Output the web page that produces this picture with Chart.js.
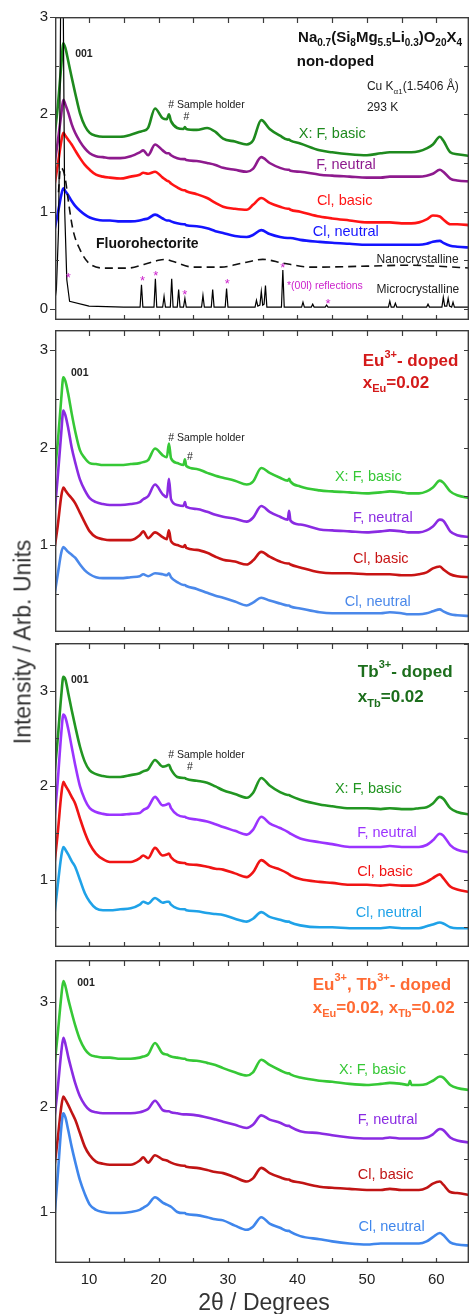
<!DOCTYPE html>
<html><head><meta charset="utf-8">
<script src="https://cdn.jsdelivr.net/npm/chart.js@4"></script>
<style>
html,body{margin:0;padding:0;background:#fff;}
#wrap{position:relative;width:470px;height:1314px;overflow:hidden;font-family:"Liberation Sans",Arial,Helvetica,sans-serif;background:#fff;}
canvas{position:absolute;left:0;}
#ytitle{position:absolute;left:23px;top:642px;transform:translate(-50%,-50%) rotate(-90deg);font-size:23px;color:#333;white-space:nowrap;}
#xtitle{position:absolute;left:264px;top:1302px;transform:translate(-50%,-50%);font-size:23px;color:#333;white-space:nowrap;}
</style></head>
<body><div id="wrap">
<canvas id="c1" width="470" height="325" style="top:0;width:470px;height:325px"></canvas>
<canvas id="c2" width="470" height="312" style="top:325px;width:470px;height:312px"></canvas>
<canvas id="c3" width="470" height="315" style="top:637px;width:470px;height:315px"></canvas>
<canvas id="c4" width="470" height="362" style="top:952px;width:470px;height:362px"></canvas>
<div id="ytitle">Intensity / Arb. Units</div>
<div id="xtitle">2θ / Degrees</div>
</div>
<script>
// ---------- data ----------
const THETA = [5.0,5.5,6.0,6.3,6.6,7.0,7.5,8.0,8.7,9.4,
 10.1,11.0,12.0,13.0,14.5,16.0,17.3,17.8,18.5,19.5,
 20.6,21.2,21.5,21.8,22.7,23.6,23.8,24.0,25.5,27.0,
 28.2,29.3,31.0,32.7,33.6,34.8,36.0,37.5,38.6,38.8,
 39.0,40.4,43.2,45.0,47.5,50.0,52.0,53.3,55.0,56.0,
 56.2,56.4,57.5,58.6,59.5,60.5,61.0,62.0,63.0,65.0];

// Panel 1: non-doped
const P1_F_BASIC = [1.76,2.08,2.50,2.73,2.68,2.55,2.38,2.22,2.01,1.88,
 1.81,1.78,1.77,1.77,1.77,1.79,1.82,1.83,1.86,2.06,
 1.96,1.95,2.00,1.93,1.86,1.85,1.87,1.85,1.84,1.86,
 1.82,1.75,1.72,1.69,1.73,1.94,1.85,1.78,1.74,1.74,
 1.73,1.70,1.63,1.61,1.59,1.58,1.60,1.61,1.61,1.61,
 1.61,1.61,1.62,1.65,1.69,1.77,1.73,1.61,1.59,1.57];
const P1_F_NEUTRAL = [1.47,1.72,2.00,2.15,2.10,2.02,1.90,1.81,1.72,1.65,
 1.60,1.57,1.56,1.55,1.55,1.57,1.61,1.63,1.58,1.69,
 1.63,1.60,1.60,1.58,1.55,1.54,1.54,1.53,1.52,1.50,
 1.48,1.45,1.43,1.41,1.44,1.56,1.50,1.45,1.43,1.43,
 1.42,1.41,1.38,1.37,1.36,1.35,1.35,1.36,1.36,1.36,
 1.36,1.36,1.36,1.37,1.39,1.43,1.41,1.34,1.32,1.31];
const P1_CL_BASIC = [1.26,1.48,1.72,1.81,1.78,1.74,1.69,1.63,1.55,1.48,
 1.43,1.38,1.36,1.35,1.34,1.36,1.38,1.40,1.39,1.41,
 1.35,1.32,1.31,1.29,1.25,1.22,1.22,1.21,1.18,1.14,
 1.09,1.05,1.03,1.02,1.07,1.14,1.09,1.05,1.03,1.03,
 1.02,1.00,0.95,0.93,0.91,0.89,0.89,0.89,0.88,0.88,
 0.88,0.88,0.89,0.92,0.96,0.95,0.92,0.87,0.87,0.86];
const P1_CL_NEUTRAL = [0.80,0.98,1.17,1.24,1.21,1.17,1.11,1.06,1.01,0.97,
 0.94,0.92,0.91,0.91,0.90,0.90,0.91,0.92,0.93,0.97,
 0.93,0.91,0.91,0.90,0.88,0.87,0.87,0.86,0.85,0.83,
 0.80,0.78,0.75,0.74,0.76,0.81,0.77,0.74,0.73,0.73,
 0.73,0.71,0.69,0.68,0.67,0.66,0.66,0.66,0.66,0.66,
 0.66,0.66,0.66,0.67,0.69,0.70,0.68,0.65,0.64,0.63];
const NANO_X = [5.6,5.9,6.3,6.6,7.0,7.7,8.7,10.0,12.5,15.5,18.0,20.0,21.0,22.0,25.0,29.0,32.0,35.0,38.0,42.0,50.0,56.0,60.0,65.0];
const NANO_Y = [1.20,1.45,1.42,1.33,1.12,0.81,0.61,0.47,0.42,0.42,0.46,0.50,0.51,0.49,0.43,0.43,0.47,0.51,0.47,0.43,0.44,0.45,0.44,0.42];
const MICRO_X = [5.0,5.3,5.6,5.8,6.0,6.1,6.3,6.5,6.8,7.2,
 10.0,15.0,17.35,17.55,17.75,19.35,19.55,19.75,20.6,20.8,
 21.0,21.7,21.9,22.1,22.7,22.9,23.1,23.6,23.8,24.0,
 26.2,26.4,26.6,27.6,27.8,28.0,29.6,29.8,30.0,33.9,
 34.1,34.3,34.6,34.8,35.0,35.2,35.4,35.6,37.7,37.9,
 38.1,40.6,40.8,41.0,42.0,42.2,42.4,44.0,44.2,44.4,
 50.0,53.1,53.3,53.5,53.9,54.1,54.3,58.6,58.8,59.0,
 60.8,61.0,61.2,61.5,61.7,61.9,62.2,62.4,62.6,65.0];
const MICRO_Y = [0.05,0.20,0.80,2.00,4.00,4.60,3.00,1.00,0.30,0.08,
 0.03,0.02,0.02,0.25,0.02,0.02,0.31,0.02,0.02,0.13,
 0.02,0.02,0.31,0.02,0.02,0.20,0.02,0.02,0.11,0.02,
 0.02,0.14,0.02,0.02,0.20,0.02,0.02,0.21,0.02,0.02,
 0.09,0.03,0.04,0.18,0.04,0.05,0.24,0.02,0.02,0.40,
 0.02,0.02,0.07,0.02,0.02,0.05,0.02,0.02,0.04,0.02,
 0.02,0.02,0.08,0.02,0.02,0.06,0.02,0.02,0.05,0.02,
 0.02,0.12,0.03,0.03,0.11,0.03,0.02,0.07,0.02,0.02];
const STAR_X = [7.0,17.7,19.6,23.8,29.9,37.9,44.4];
const STAR_Y = [0.35,0.31,0.37,0.17,0.28,0.45,0.08];

// Panel 2: Eu-doped
const P2_F_BASIC = [1.70,2.05,2.50,2.72,2.68,2.55,2.35,2.17,1.97,1.89,
 1.84,1.83,1.82,1.82,1.82,1.83,1.84,1.85,1.87,1.99,
 1.92,1.90,2.04,1.89,1.84,1.82,1.88,1.81,1.78,1.74,
 1.71,1.69,1.66,1.62,1.65,1.79,1.74,1.69,1.66,1.68,
 1.65,1.60,1.56,1.55,1.54,1.53,1.54,1.55,1.54,1.53,
 1.53,1.53,1.53,1.55,1.59,1.66,1.64,1.55,1.51,1.48];
const P2_F_NEUTRAL = [1.30,1.70,2.15,2.38,2.33,2.20,2.00,1.85,1.67,1.56,
 1.48,1.44,1.42,1.41,1.41,1.42,1.44,1.47,1.50,1.62,
 1.52,1.49,1.68,1.47,1.41,1.40,1.44,1.39,1.37,1.34,
 1.31,1.29,1.27,1.24,1.28,1.40,1.34,1.29,1.26,1.35,
 1.25,1.21,1.16,1.15,1.14,1.13,1.14,1.15,1.14,1.13,
 1.13,1.13,1.13,1.15,1.19,1.26,1.25,1.14,1.10,1.08];
const P2_CL_BASIC = [0.95,1.20,1.50,1.59,1.56,1.52,1.48,1.43,1.33,1.23,
 1.14,1.08,1.06,1.05,1.05,1.05,1.10,1.14,1.07,1.13,
 1.08,1.06,1.15,1.04,1.00,0.98,1.00,0.97,0.95,0.92,
 0.88,0.85,0.83,0.80,0.84,0.93,0.88,0.83,0.81,0.81,
 0.80,0.77,0.72,0.71,0.71,0.70,0.70,0.70,0.69,0.69,
 0.69,0.69,0.70,0.72,0.76,0.78,0.75,0.70,0.68,0.67];
const P2_CL_NEUTRAL = [0.48,0.70,0.92,0.98,0.96,0.93,0.90,0.87,0.80,0.74,
 0.70,0.67,0.66,0.66,0.66,0.67,0.68,0.70,0.68,0.71,
 0.70,0.69,0.71,0.67,0.62,0.59,0.59,0.58,0.55,0.51,
 0.48,0.46,0.42,0.38,0.41,0.46,0.43,0.40,0.38,0.38,
 0.37,0.35,0.31,0.30,0.30,0.30,0.30,0.31,0.30,0.29,
 0.29,0.29,0.29,0.30,0.32,0.34,0.32,0.29,0.28,0.27];

// Panel 3: Tb-doped
const P3_F_BASIC = [2.10,2.50,2.95,3.15,3.12,2.98,2.80,2.63,2.41,2.25,
 2.16,2.12,2.10,2.09,2.09,2.11,2.13,2.15,2.17,2.27,
 2.20,2.21,2.22,2.17,2.09,2.08,2.08,2.07,2.05,2.03,
 1.99,1.95,1.91,1.87,1.92,2.08,2.00,1.93,1.90,1.90,
 1.89,1.85,1.80,1.78,1.76,1.76,1.75,1.76,1.75,1.75,
 1.75,1.75,1.76,1.77,1.81,1.88,1.86,1.76,1.72,1.69];
const P3_F_NEUTRAL = [1.62,2.05,2.55,2.75,2.72,2.60,2.41,2.22,1.99,1.85,
 1.76,1.72,1.70,1.69,1.69,1.70,1.71,1.74,1.77,1.88,
 1.79,1.80,1.81,1.76,1.69,1.67,1.67,1.66,1.64,1.62,
 1.59,1.56,1.52,1.48,1.53,1.67,1.60,1.55,1.51,1.50,
 1.49,1.44,1.40,1.38,1.35,1.35,1.35,1.36,1.35,1.35,
 1.35,1.35,1.35,1.37,1.42,1.49,1.47,1.37,1.32,1.29];
const P3_CL_BASIC = [1.15,1.50,1.90,2.04,2.00,1.95,1.88,1.81,1.65,1.50,
 1.38,1.28,1.22,1.19,1.19,1.19,1.23,1.26,1.23,1.34,
 1.26,1.27,1.28,1.24,1.19,1.18,1.18,1.17,1.16,1.14,
 1.12,1.11,1.07,1.03,1.08,1.21,1.15,1.11,1.07,1.06,
 1.05,1.01,0.98,0.97,0.95,0.95,0.94,0.95,0.94,0.94,
 0.94,0.94,0.95,0.98,1.02,1.06,1.02,0.93,0.90,0.87];
const P3_CL_NEUTRAL = [0.62,0.95,1.25,1.35,1.32,1.27,1.20,1.14,1.00,0.86,
 0.77,0.70,0.68,0.68,0.69,0.70,0.74,0.77,0.75,0.81,
 0.76,0.77,0.77,0.74,0.70,0.69,0.69,0.68,0.67,0.65,
 0.64,0.63,0.59,0.56,0.59,0.66,0.61,0.58,0.56,0.56,
 0.55,0.52,0.50,0.50,0.49,0.49,0.49,0.50,0.49,0.49,
 0.49,0.49,0.49,0.51,0.53,0.55,0.54,0.50,0.49,0.49];

// Panel 4: Eu,Tb-doped
const P4_F_BASIC = [2.38,2.70,3.05,3.20,3.15,3.03,2.90,2.78,2.64,2.55,
 2.50,2.48,2.47,2.47,2.46,2.46,2.47,2.48,2.50,2.61,
 2.51,2.50,2.49,2.48,2.47,2.46,2.46,2.45,2.44,2.42,
 2.40,2.37,2.33,2.30,2.33,2.45,2.40,2.35,2.32,2.32,
 2.31,2.28,2.25,2.24,2.22,2.21,2.22,2.23,2.22,2.21,
 2.25,2.21,2.21,2.22,2.25,2.29,2.28,2.21,2.18,2.16];
const P4_F_NEUTRAL = [1.88,2.18,2.52,2.66,2.60,2.48,2.35,2.23,2.10,2.02,
 1.97,1.95,1.94,1.94,1.94,1.94,1.95,1.96,1.98,2.06,
 1.97,1.96,1.96,1.95,1.94,1.93,1.93,1.93,1.92,1.90,
 1.88,1.86,1.83,1.80,1.83,1.92,1.88,1.85,1.82,1.82,
 1.81,1.77,1.75,1.73,1.71,1.70,1.70,1.71,1.70,1.70,
 1.70,1.70,1.70,1.71,1.74,1.79,1.78,1.71,1.68,1.66];
const P4_CL_BASIC = [1.42,1.70,2.00,2.10,2.07,2.02,1.95,1.88,1.75,1.62,
 1.54,1.48,1.46,1.45,1.45,1.45,1.49,1.52,1.47,1.54,
 1.50,1.49,1.48,1.47,1.45,1.44,1.44,1.43,1.42,1.40,
 1.38,1.37,1.33,1.29,1.32,1.42,1.37,1.33,1.31,1.31,
 1.30,1.28,1.24,1.23,1.22,1.21,1.21,1.22,1.21,1.21,
 1.21,1.21,1.21,1.23,1.27,1.29,1.26,1.19,1.18,1.16];
const P4_CL_NEUTRAL = [0.93,1.35,1.80,1.94,1.90,1.78,1.62,1.48,1.30,1.17,
 1.07,1.02,1.00,0.99,0.99,1.00,1.02,1.04,1.07,1.14,
 1.09,1.07,1.06,1.05,1.00,0.99,0.99,0.98,0.97,0.95,
 0.93,0.92,0.87,0.83,0.86,0.95,0.89,0.85,0.82,0.82,
 0.81,0.77,0.74,0.72,0.70,0.69,0.70,0.70,0.70,0.70,
 0.70,0.70,0.70,0.72,0.76,0.80,0.78,0.71,0.69,0.68];

const SERIES_NAMES = ['X: F, basic','F, neutral','Cl, basic','Cl, neutral'];
const X_TICK_LABELS = [10,20,30,40,50,60];
const Y_TICK_LABELS_P1 = [0,1,2,3];
const Y_TICK_LABELS = [1,2,3];

// ---------- drawing ----------
const FONT = '"Liberation Sans", Arial, Helvetica, sans-serif';
const X_MIN = 5.1, X_MAX = 64.7;

function xy(xs, ys){ return xs.map((t,i)=>({x:t, y:ys[i]})); }
function curve(ys, color){
  return {data:xy(THETA, ys), borderColor:color, borderWidth:2.6, pointRadius:0,
          cubicInterpolationMode:'monotone', fill:false};
}
function rich(ctx, parts, x, y, align, size, bold, color){
  const f = s => (bold?'bold ':'') + s + 'px ' + FONT;
  const small = Math.round(size*0.66);
  let w = 0;
  const ws = parts.map(p => { ctx.font = f(p[1]?small:size); const m = ctx.measureText(p[0]).width; w += m; return m; });
  let cx = align==='right' ? x-w : (align==='center' ? x-w/2 : x);
  ctx.fillStyle = color; ctx.textBaseline = 'middle'; ctx.textAlign = 'left';
  parts.forEach((p,i) => {
    ctx.font = f(p[1]?small:size);
    const dy = p[1]==='sub' ? size*0.36 : (p[1]==='sup' ? -size*0.4 : 0);
    ctx.fillText(p[0], cx, y+dy);
    cx += ws[i];
  });
}

function panel(id, yMin, yMax, pad, datasets, yLabels, texts, extra){
  const plug = {
    id:'frame_'+id,
    afterDatasetsDraw(chart){
      const ctx = chart.ctx, a = chart.chartArea, sx = chart.scales.x, sy = chart.scales.y;
      ctx.save();
      texts.forEach(t => rich(ctx, t.parts, sx.getPixelForValue(t.x), sy.getPixelForValue(t.y), t.align||'left', t.size, !!t.bold, t.color));
      if (extra) extra(ctx, sx, sy);
      ctx.strokeStyle = '#3c3c3c'; ctx.lineWidth = 1.4;
      ctx.strokeRect(a.left+0.7, a.top+0.7, a.right-a.left-1.4, a.bottom-a.top-1.4);
      ctx.lineWidth = 1.2;
      ctx.beginPath();
      for (let v=10; v<=60; v+=5){
        const px = Math.round(sx.getPixelForValue(v))+0.5;
        ctx.moveTo(px, a.top); ctx.lineTo(px, a.top+6);
        ctx.moveTo(px, a.bottom); ctx.lineTo(px, a.bottom-5);
      }
      for (let k=Math.ceil(yMin*2); k<=Math.floor(yMax*2); k++){
        const v = k/2, py = Math.round(sy.getPixelForValue(v))+0.5;
        ctx.moveTo(a.right, py); ctx.lineTo(a.right-5, py);
        if (k%2===0){ ctx.moveTo(a.left, py); ctx.lineTo(a.left-5, py); }
        else { ctx.moveTo(a.left, py); ctx.lineTo(a.left+4, py); }
      }
      ctx.stroke();
      ctx.fillStyle = '#222'; ctx.font = '15px ' + FONT;
      ctx.textAlign = 'right'; ctx.textBaseline = 'middle';
      yLabels.forEach(v => ctx.fillText(String(v), a.left-7, sy.getPixelForValue(v)));
      if (id==='c4'){
        ctx.textAlign = 'center';
        X_TICK_LABELS.forEach(v => ctx.fillText(String(v), sx.getPixelForValue(v), a.bottom+17));
      }
      ctx.restore();
    }
  };
  return new Chart(document.getElementById(id), {
    type:'line',
    data:{datasets},
    options:{
      responsive:false, animation:false, events:[],
      layout:{padding:pad},
      plugins:{legend:{display:false}, tooltip:{enabled:false}},
      scales:{
        x:{type:'linear', min:X_MIN, max:X_MAX, display:false},
        y:{type:'linear', min:yMin, max:yMax, display:false}
      }
    },
    plugins:[plug]
  });
}

function labels(colors, pos){
  return SERIES_NAMES.map((n,i) => ({parts:[[n]], x:pos[i][0], y:pos[i][1], size:14.5, color:colors[i]}));
}

// Panel 1
const C1 = ['#1e8a1e','#8e1a8e','#ff1414','#1414ff'];
panel('c1', -0.113, 3.0, {left:55,right:1,top:17,bottom:5}, [
  {data:xy(MICRO_X, MICRO_Y), borderColor:'#000', borderWidth:1.2, pointRadius:0, tension:0, fill:false},
  {data:xy(NANO_X, NANO_Y), borderColor:'#111', borderWidth:1.6, borderDash:[8,5], pointRadius:0, cubicInterpolationMode:'monotone', fill:false},
  curve(P1_CL_NEUTRAL, C1[3]), curve(P1_CL_BASIC, C1[2]), curve(P1_F_NEUTRAL, C1[1]), curve(P1_F_BASIC, C1[0])
], Y_TICK_LABELS_P1, [
  {parts:[['001']], x:8.0, y:2.62, size:10.5, bold:true, color:'#222'},
  {parts:[['Na'],['0.7','sub'],['(Si'],['8','sub'],['Mg'],['5.5','sub'],['Li'],['0.3','sub'],[')O'],['20','sub'],['X'],['4','sub']], x:63.7, y:2.79, align:'right', size:15, bold:true, color:'#111'},
  {parts:[['non-doped']], x:39.9, y:2.54, size:15, bold:true, color:'#111'},
  {parts:[['Cu K'],['\u03b11','sub'],['(1.5406 \u00c5)']], x:50.0, y:2.28, size:12, color:'#222'},
  {parts:[['293 K']], x:50.0, y:2.07, size:12, color:'#222'},
  {parts:[['# Sample holder']], x:21.4, y:2.09, size:10.5, color:'#222'},
  {parts:[['#']], x:23.6, y:1.97, size:10.5, color:'#222'},
  ...labels(C1, [[40.2,1.80],[42.7,1.48],[42.8,1.11],[42.2,0.79]]),
  {parts:[['Fluorohectorite']], x:11.0, y:0.67, size:14, bold:true, color:'#111'},
  {parts:[['Nanocrystalline']], x:51.4, y:0.51, size:12, color:'#222'},
  {parts:[['Microcrystalline']], x:51.4, y:0.20, size:12, color:'#222'},
  {parts:[['*(00l) reflections']], x:38.5, y:0.24, size:10.5, color:'#cc22cc'}
], (ctx, sx, sy) => {
  ctx.fillStyle = '#cc22cc'; ctx.font = '13px ' + FONT; ctx.textAlign='center'; ctx.textBaseline='middle';
  STAR_X.forEach((v,i) => ctx.fillText('*', sx.getPixelForValue(v), sy.getPixelForValue(STAR_Y[i])+3));
});

// Panel 2
const C2 = ['#36c836','#8a2be2','#c81414','#4a88ea'];
panel('c2', 0.108, 3.205, {left:55,right:1,top:5,bottom:5}, [
  curve(P2_CL_NEUTRAL, C2[3]), curve(P2_CL_BASIC, C2[2]), curve(P2_F_NEUTRAL, C2[1]), curve(P2_F_BASIC, C2[0])
], Y_TICK_LABELS, [
  {parts:[['001']], x:7.4, y:2.76, size:10.5, bold:true, color:'#222'},
  {parts:[['Eu'],['3+','sup'],['- doped']], x:49.4, y:2.88, size:17, bold:true, color:'#d41a1a'},
  {parts:[['x'],['Eu','sub'],['=0.02']], x:49.4, y:2.66, size:17, bold:true, color:'#d41a1a'},
  {parts:[['# Sample holder']], x:21.4, y:2.10, size:10.5, color:'#222'},
  {parts:[['#']], x:24.1, y:1.90, size:10.5, color:'#222'},
  ...labels(C2, [[45.4,1.70],[48.0,1.28],[48.0,0.86],[46.8,0.42]])
]);

// Panel 3
const C3 = ['#229622','#9b34ff','#f01414','#1fa2e8'];
panel('c3', 0.291, 3.508, {left:55,right:1,top:6,bottom:5}, [
  curve(P3_CL_NEUTRAL, C3[3]), curve(P3_CL_BASIC, C3[2]), curve(P3_F_NEUTRAL, C3[1]), curve(P3_F_BASIC, C3[0])
], Y_TICK_LABELS, [
  {parts:[['001']], x:7.4, y:3.12, size:10.5, bold:true, color:'#222'},
  {parts:[['Tb'],['3+','sup'],['- doped']], x:48.7, y:3.20, size:17, bold:true, color:'#1c6e1c'},
  {parts:[['x'],['Tb','sub'],['=0.02']], x:48.7, y:2.93, size:17, bold:true, color:'#1c6e1c'},
  {parts:[['# Sample holder']], x:21.4, y:2.32, size:10.5, color:'#222'},
  {parts:[['#']], x:24.1, y:2.19, size:10.5, color:'#222'},
  ...labels(C3, [[45.4,1.96],[48.6,1.50],[48.6,1.08],[48.4,0.65]])
]);

// Panel 4
const C4 = ['#36c836','#8a2be2','#c01414','#3f86ec'];
panel('c4', 0.514, 3.4, {left:55,right:1,top:8,bottom:51}, [
  curve(P4_CL_NEUTRAL, C4[3]), curve(P4_CL_BASIC, C4[2]), curve(P4_F_NEUTRAL, C4[1]), curve(P4_F_BASIC, C4[0])
], Y_TICK_LABELS, [
  {parts:[['001']], x:8.3, y:3.18, size:10.5, bold:true, color:'#222'},
  {parts:[['Eu'],['3+','sup'],[', Tb'],['3+','sup'],['- doped']], x:42.2, y:3.16, size:17, bold:true, color:'#ff6a33'},
  {parts:[['x'],['Eu','sub'],['=0.02, x'],['Tb','sub'],['=0.02']], x:42.2, y:2.94, size:17, bold:true, color:'#ff6a33'},
  ...labels(C4, [[46.0,2.35],[48.7,1.88],[48.7,1.35],[48.8,0.86]])
]);
</script>
</body></html>
